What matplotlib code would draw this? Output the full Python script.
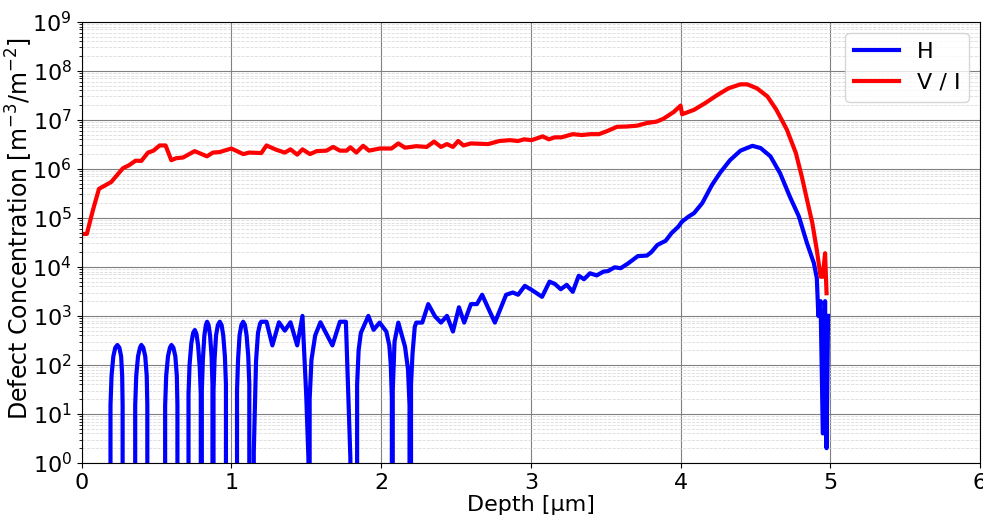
import numpy as np
import matplotlib.pyplot as plt

# depth [um] and concentration
vi_depth = [0.0, 0.035, 0.076, 0.116, 0.198, 0.276, 0.316, 0.361, 0.399, 0.443,
            0.48, 0.521, 0.561, 0.599, 0.632, 0.677, 0.755, 0.837, 0.877, 0.922,
            1.0, 1.08, 1.12, 1.2, 1.235, 1.30, 1.357, 1.395, 1.44, 1.475,
            1.525, 1.57, 1.635, 1.68, 1.725, 1.77, 1.795, 1.835, 1.88, 1.92,
            1.99, 2.07, 2.115, 2.16, 2.235, 2.305, 2.354, 2.40, 2.44, 2.48,
            2.515, 2.55, 2.60, 2.715, 2.79, 2.86, 2.915, 2.955, 3.005, 3.08,
            3.12, 3.16, 3.205, 3.28, 3.34, 3.40, 3.455, 3.51, 3.575, 3.64,
            3.71, 3.775, 3.84, 3.885, 3.955, 4.0, 4.01, 4.09, 4.165, 4.245,
            4.32, 4.40, 4.445, 4.51, 4.58, 4.64, 4.71, 4.77, 4.81, 4.845,
            4.88, 4.91, 4.935, 4.95, 4.965, 4.975]
vi_conc = [4.7e4, 4.7e4, 1.45e5, 3.9e5, 5.4e5, 1.03e6, 1.18e6, 1.47e6, 1.45e6, 2.14e6,
           2.35e6, 3.0e6, 3.0e6, 1.5e6, 1.65e6, 1.7e6, 2.3e6, 1.8e6, 2.15e6, 2.2e6,
           2.6e6, 2.0e6, 2.15e6, 2.1e6, 3.0e6, 2.45e6, 2.15e6, 2.5e6, 1.95e6, 2.5e6,
           2.0e6, 2.3e6, 2.35e6, 2.8e6, 2.35e6, 2.35e6, 2.75e6, 2.15e6, 2.95e6, 2.35e6,
           2.6e6, 2.6e6, 3.3e6, 2.7e6, 2.9e6, 2.8e6, 3.6e6, 2.8e6, 3.2e6, 2.8e6,
           3.7e6, 3.0e6, 3.3e6, 3.2e6, 3.7e6, 3.85e6, 3.7e6, 4.0e6, 3.85e6, 4.6e6,
           4.0e6, 4.4e6, 4.4e6, 5.1e6, 4.9e6, 5.1e6, 5.1e6, 5.9e6, 7.2e6, 7.3e6,
           7.6e6, 8.6e6, 9.2e6, 1.05e7, 1.45e7, 1.95e7, 1.3e7, 1.6e7, 2.2e7, 3.2e7,
           4.4e7, 5.3e7, 5.3e7, 4.4e7, 3.0e7, 1.6e7, 6.3e6, 2.1e6, 6.9e5, 2.3e5,
           7.8e4, 2.2e4, 6.3e3, 6.3e3, 1.9e4, 2.9e3]

h_depth = [0.19, 0.193, 0.20, 0.212, 0.225, 0.239, 0.252, 0.264, 0.271, 0.274, 0.277,
           0.355, 0.358, 0.365, 0.377, 0.39, 0.399, 0.412, 0.425, 0.435, 0.439, 0.443,
           0.555, 0.558, 0.565, 0.577, 0.59, 0.60, 0.613, 0.626, 0.636, 0.64, 0.644,
           0.711, 0.714, 0.721, 0.733, 0.745, 0.756, 0.767, 0.778, 0.789, 0.796, 0.80,
           0.803, 0.81, 0.82, 0.83, 0.838, 0.848, 0.858, 0.868, 0.874, 0.878,
           0.881, 0.888, 0.898, 0.91, 0.923, 0.935, 0.946, 0.957, 0.964, 0.968,
           1.035, 1.038, 1.045, 1.055, 1.067, 1.079, 1.091, 1.102, 1.113, 1.12, 1.124,
           1.15, 1.165, 1.178, 1.192, 1.20, 1.235, 1.274, 1.318, 1.357, 1.395,
           1.44, 1.475, 1.50, 1.515, 1.52, 1.523, 1.535, 1.56, 1.595, 1.675,
           1.725, 1.765, 1.795, 1.835, 1.84, 1.85, 1.865, 1.915, 1.95, 1.99,
           2.035, 2.055, 2.065, 2.072, 2.075, 2.078, 2.09, 2.115, 2.16, 2.18,
           2.19, 2.195, 2.2, 2.21, 2.225, 2.235, 2.275, 2.315, 2.36, 2.40,
           2.44, 2.48, 2.52, 2.555, 2.60, 2.64, 2.675, 2.715, 2.76, 2.835,
           2.88, 2.915, 2.96, 3.005, 3.075, 3.125, 3.16, 3.20, 3.24, 3.28,
           3.32, 3.355, 3.395, 3.44, 3.485, 3.515, 3.56, 3.60, 3.65, 3.715,
           3.775, 3.805, 3.845, 3.90, 3.94, 3.985, 4.01, 4.055, 4.09, 4.145,
           4.21, 4.265, 4.33, 4.40, 4.48, 4.535, 4.60, 4.665, 4.73, 4.79,
           4.845, 4.89, 4.91, 4.92, 4.935, 4.95, 4.965, 4.975, 4.985]
h_conc = [0, 15, 60, 150, 225, 255, 225, 150, 60, 15, 0,
          0, 15, 60, 150, 225, 255, 225, 150, 60, 15, 0,
          0, 15, 60, 150, 225, 255, 225, 150, 60, 15, 0,
          0, 25, 100, 280, 450, 515, 430, 250, 90, 25, 0,
          30, 130, 400, 650, 760, 650, 400, 150, 40, 0,
          30, 130, 400, 650, 760, 650, 400, 150, 40, 0,
          0, 30, 130, 400, 650, 760, 650, 400, 150, 40, 0,
          1.7, 120, 450, 700, 760, 760, 250, 740, 500, 740,
          250, 1000, 25, 1.2, 0, 20, 126, 400, 740, 250,
          760, 760, 1.25, 0, 40, 200, 450, 1000, 520, 730,
          480, 250, 100, 20, 0, 30, 300, 730, 235, 80,
          15, 0, 40, 170, 600, 730, 730, 1740, 980, 730,
          1000, 480, 1500, 730, 1740, 1740, 2700, 1450, 730, 2700,
          3000, 2700, 4100, 3400, 2450, 5000, 4500, 3500, 4300, 3100,
          6600, 5600, 7400, 6700, 8000, 8200, 9800, 9400, 1.18e4, 1.66e4,
          1.7e4, 2.0e4, 2.8e4, 3.4e4, 4.9e4, 6.6e4, 8.4e4, 1.07e5, 1.25e5, 2.0e5,
          4.7e5, 8.4e5, 1.5e6, 2.35e6, 2.95e6, 2.65e6, 1.8e6, 8.1e5, 2.7e5, 1.07e5,
          3.0e4, 1.2e4, 5.9e3, 1.0e3, 2.0e3, 4, 2.0e3, 2, 1.0e3]

plt.rcParams['font.size'] = 16
fig, ax = plt.subplots(figsize=(9.83, 5.19), dpi=100)
fig.subplots_adjust(left=0.083, right=0.997, top=0.958, bottom=0.108)

ax.plot(h_depth, h_conc, color='blue', lw=3, label='H')
ax.plot(vi_depth, vi_conc, color='red', lw=3, label='V / I')

ax.set_yscale('log')
ax.set_xlim(0, 6)
ax.set_ylim(1, 1e9)
ax.set_yticks([10.0 ** k for k in range(10)])
ax.tick_params(labelsize=16)

ax.grid(True, which='major', color='gray', lw=0.8)
ax.grid(True, which='minor', axis='y', color='lightgray', linestyle='--', lw=0.6, alpha=0.8)

ax.set_xlabel('Depth [μm]', fontsize=16, labelpad=2)
ax.set_ylabel('Defect Concentration [m$^{-3}$/m$^{-2}$]', fontsize=17)
ax.yaxis.set_label_coords(-0.052, 0.532)
ax.legend(loc='upper right', fontsize=16)

fig.savefig('out.png')
